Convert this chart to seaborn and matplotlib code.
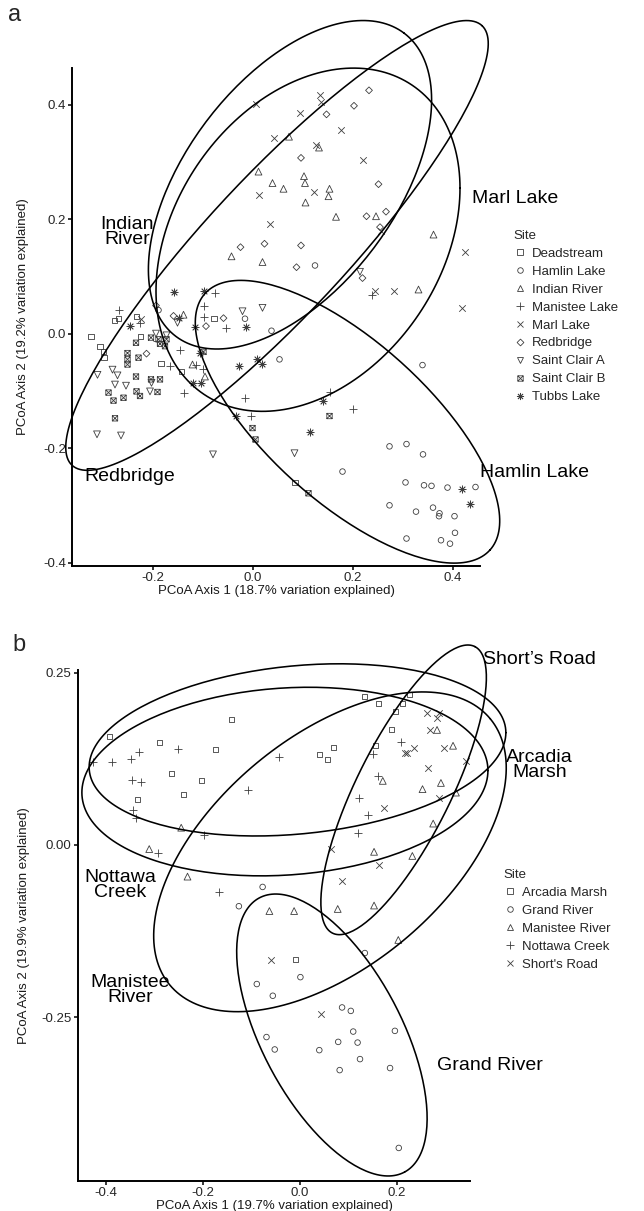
import numpy as np
import pandas as pd
import matplotlib
matplotlib.use("Agg")
import matplotlib.pyplot as plt
import seaborn as sns
from matplotlib.path import Path
from matplotlib.lines import Line2D

sns.set_theme(style="white")
plt.rcParams["font.family"] = ["Liberation Sans", "DejaVu Sans"]
plt.rcParams["axes.unicode_minus"] = False

# ---------------- Panel a data (PCoA axis 1, axis 2) ----------------
A_DEADSTREAM = [(-0.078, 0.027), (-0.277, 0.023), (-0.269, 0.026), (-0.233, 0.030), (-0.324, -0.005),
                (-0.225, -0.005), (-0.306, -0.023), (-0.299, -0.031), (-0.298, -0.042), (-0.184, -0.053),
                (-0.143, -0.066), (0.084, -0.260)]
A_HAMLIN = [(0.124, 0.119), (-0.016, 0.026), (0.037, 0.005), (0.053, -0.045), (-0.189, 0.041),
            (0.339, -0.055), (0.179, -0.241), (0.273, -0.197), (0.307, -0.193), (0.340, -0.211),
            (0.305, -0.260), (0.342, -0.265), (0.357, -0.266), (0.389, -0.269), (0.445, -0.268),
            (0.273, -0.300), (0.326, -0.311), (0.360, -0.304), (0.373, -0.314), (0.372, -0.319),
            (0.403, -0.319), (0.307, -0.358), (0.376, -0.361), (0.394, -0.367), (0.404, -0.348)]
A_INDIAN = [(0.072, 0.344), (0.132, 0.325), (0.011, 0.283), (0.039, 0.263), (0.061, 0.253),
            (0.102, 0.275), (0.104, 0.263), (0.153, 0.253), (0.151, 0.240), (0.105, 0.229),
            (0.166, 0.204), (0.246, 0.205), (0.361, 0.173), (-0.043, 0.135), (0.019, 0.125),
            (0.331, 0.077), (-0.139, 0.033), (-0.121, -0.054), (-0.096, -0.075)]
A_MANISTEE = [(0.238, 0.068), (0.154, -0.102), (0.199, -0.131), (-0.016, -0.113), (-0.003, -0.144),
              (-0.075, 0.071), (-0.097, 0.049), (-0.097, 0.029), (-0.053, 0.009), (-0.267, 0.042),
              (-0.226, 0.019), (-0.193, -0.013), (-0.146, -0.028), (-0.166, -0.057), (-0.113, -0.054),
              (-0.099, -0.062), (-0.137, -0.103)]
A_MARL = [(0.007, 0.401), (0.134, 0.417), (0.136, 0.405), (0.095, 0.385), (0.043, 0.342),
          (0.177, 0.355), (0.126, 0.330), (0.221, 0.304), (0.013, 0.243), (0.123, 0.247),
          (0.033, 0.192), (0.256, 0.180), (0.425, 0.143), (0.244, 0.075), (0.281, 0.075),
          (0.419, 0.045), (-0.224, 0.026)]
A_REDBRIDGE = [(0.232, 0.425), (0.202, 0.398), (0.147, 0.383), (0.096, 0.307), (0.251, 0.261),
               (0.227, 0.205), (0.266, 0.213), (0.254, 0.186), (-0.025, 0.151), (0.023, 0.157),
               (0.096, 0.154), (0.087, 0.116), (0.219, 0.097), (-0.194, 0.049), (-0.159, 0.031),
               (-0.059, 0.027), (-0.094, 0.013), (-0.213, -0.035)]
A_STCLAIR_A = [(0.214, 0.108), (-0.021, 0.039), (0.019, 0.045), (-0.151, 0.019), (-0.194, 0.000),
               (-0.173, -0.003), (0.083, -0.209), (-0.311, -0.072), (-0.281, -0.063), (-0.271, -0.073),
               (-0.203, -0.086), (-0.276, -0.089), (-0.254, -0.091), (-0.206, -0.101), (-0.312, -0.176),
               (-0.264, -0.178), (-0.080, -0.211)]
A_STCLAIR_B = [(0.153, -0.144), (-0.001, -0.165), (0.005, -0.185), (0.111, -0.279), (-0.204, -0.007),
               (-0.189, -0.010), (-0.173, -0.010), (-0.186, -0.018), (-0.176, -0.022), (-0.234, -0.016),
               (-0.099, -0.032), (-0.251, -0.034), (-0.251, -0.045), (-0.251, -0.054), (-0.229, -0.042),
               (-0.234, -0.075), (-0.204, -0.080), (-0.186, -0.080), (-0.289, -0.103), (-0.233, -0.101),
               (-0.191, -0.102), (-0.259, -0.112), (-0.226, -0.109), (-0.279, -0.117), (-0.276, -0.148)]
A_TUBBS = [(-0.014, 0.011), (-0.027, -0.056), (0.009, -0.045), (0.019, -0.053), (0.139, -0.118),
           (-0.033, -0.144), (0.114, -0.172), (0.419, -0.271), (0.434, -0.297), (-0.159, 0.072),
           (-0.098, 0.074), (-0.148, 0.028), (-0.116, 0.012), (-0.246, 0.014), (-0.106, -0.034),
           (-0.119, -0.086), (-0.103, -0.086)]

A_SITES = ["Deadstream", "Hamlin Lake", "Indian River", "Manistee Lake", "Marl Lake",
           "Redbridge", "Saint Clair A", "Saint Clair B", "Tubbs Lake"]
A_POINTS = [A_DEADSTREAM, A_HAMLIN, A_INDIAN, A_MANISTEE, A_MARL,
            A_REDBRIDGE, A_STCLAIR_A, A_STCLAIR_B, A_TUBBS]

# 95% ellipses: centre and two conjugate semi-axes (data units)
A_ELL_SITES = ["Indian River", "Redbridge", "Marl Lake", "Hamlin Lake"]
A_ELL_CENTER = [(0.074, 0.260), (0.048, 0.154), (0.110, 0.164), (0.189, -0.154)]
A_ELL_U = [(0.228, 0.265), (0.410, 0.384), (0.304, 0.090), (0.285, -0.224)]
A_ELL_V = [(0.168, -0.110), (0.102, -0.083), (0.000, -0.286), (-0.107, -0.104)]
A_LABELS = ["Indian\nRiver", "Marl Lake", "Hamlin Lake", "Redbridge"]
A_LABEL_POS = [(-0.252, 0.178), (0.524, 0.236), (0.564, -0.243), (-0.246, -0.25)]

# ---------------- Panel b data ----------------
B_ARCADIA = [(-0.142, 0.182), (-0.393, 0.158), (-0.289, 0.149), (-0.174, 0.138), (-0.265, 0.103),
             (-0.203, 0.094), (-0.335, 0.066), (-0.241, 0.073), (0.134, 0.215), (0.163, 0.205),
             (0.227, 0.219), (0.211, 0.205), (0.198, 0.194), (0.188, 0.167), (0.155, 0.144),
             (0.070, 0.141), (0.041, 0.132), (0.057, 0.124), (-0.010, -0.166)]
B_GRAND = [(-0.077, -0.061), (-0.126, -0.089), (0.134, -0.157), (0.001, -0.192), (-0.089, -0.202),
           (-0.056, -0.219), (0.087, -0.236), (0.105, -0.241), (0.196, -0.270), (0.110, -0.271),
           (0.079, -0.286), (0.119, -0.287), (-0.069, -0.279), (-0.052, -0.297), (0.040, -0.298),
           (0.124, -0.311), (0.082, -0.327), (0.186, -0.324), (0.204, -0.440)]
B_MANISTEE = [(-0.245, 0.025), (-0.311, -0.006), (-0.232, -0.046), (-0.063, -0.096), (-0.012, -0.096),
              (0.078, -0.093), (0.153, -0.088), (0.203, -0.138), (0.283, 0.167), (0.316, 0.144),
              (0.171, 0.093), (0.291, 0.090), (0.253, 0.081), (0.322, 0.076), (0.275, 0.031),
              (0.153, -0.010), (0.232, -0.016)]
B_NOTTAWA = [(-0.427, 0.120), (-0.388, 0.120), (-0.348, 0.125), (-0.332, 0.135), (-0.251, 0.139),
             (-0.043, 0.127), (-0.347, 0.095), (-0.328, 0.091), (-0.107, 0.080), (-0.344, 0.051),
             (-0.338, 0.039), (-0.197, 0.015), (-0.292, -0.011), (-0.168, -0.069), (0.208, 0.149),
             (0.150, 0.132), (0.161, 0.100), (0.122, 0.068), (0.141, 0.044), (0.120, 0.017)]
B_SHORTS = [(0.262, 0.192), (0.287, 0.191), (0.283, 0.185), (0.269, 0.167), (0.216, 0.134),
            (0.222, 0.134), (0.236, 0.141), (0.297, 0.141), (0.265, 0.111), (0.342, 0.122),
            (0.287, 0.068), (0.173, 0.053), (0.064, -0.006), (0.087, -0.053), (0.163, -0.029),
            (-0.060, -0.167), (0.043, -0.246)]

B_SITES = ["Arcadia Marsh", "Grand River", "Manistee River", "Nottawa Creek", "Short's Road"]
B_POINTS = [B_ARCADIA, B_GRAND, B_MANISTEE, B_NOTTAWA, B_SHORTS]
B_ELL_SITES = B_SITES
B_ELL_CENTER = [(-0.005, 0.138), (0.066, -0.276), (0.062, -0.010), (-0.031, 0.092), (0.214, 0.080)]
B_ELL_U = [(0.430, 0.025), (0.150, -0.199), (0.331, 0.193), (0.419, 0.016), (0.147, 0.208)]
B_ELL_V = [(0.000, -0.1225), (-0.127, -0.048), (0.151, -0.129), (0.000, -0.136), (0.087, -0.031)]
B_LABELS = ["Arcadia\nMarsh", "Grand River", "Manistee\nRiver", "Nottawa\nCreek", "Short\u2019s Road"]
B_LABEL_POS = [(0.495, 0.116), (0.392, -0.32), (-0.351, -0.211), (-0.371, -0.058), (0.495, 0.269)]

# ---------------- marker styles (ggplot shapes 0..8) ----------------
SQ_X = Path([(-1, -1), (1, -1), (1, 1), (-1, 1), (-1, -1), (-1, -1), (1, 1), (-1, 1), (1, -1)],
            [Path.MOVETO, Path.LINETO, Path.LINETO, Path.LINETO, Path.CLOSEPOLY,
             Path.MOVETO, Path.LINETO, Path.MOVETO, Path.LINETO])
SHAPES = [("s", True, 13), ("o", True, 16), ("^", True, 24), ("+", False, 34), ("x", False, 22),
          ("D", True, 12), ("v", True, 24), (SQ_X, True, 15), ((8, 2, 0), False, 26)]
PT_COLOR = "#3d3d3d"


def ellipse_frame(center, u, v, segments=200):
    t = np.linspace(0, 2 * np.pi, segments + 1)
    x = center[0] + u[0] * np.cos(t) + v[0] * np.sin(t)
    y = center[1] + u[1] * np.cos(t) + v[1] * np.sin(t)
    return pd.DataFrame({"x": x, "y": y})


def draw_panel(ax, sites, points, ell_c, ell_u, ell_v, labels, label_pos, xlim, ylim, xticks,
               yticks, yticklabels, xlabel, ylabel, ylabelpad):
    handles = []
    for i, (site, pts) in enumerate(zip(sites, points)):
        mk, hollow, size = SHAPES[i]
        df = pd.DataFrame(pts, columns=["x", "y"])
        kw = dict(marker=mk, s=size, linewidth=0.6, color=PT_COLOR, zorder=3)
        if hollow:
            kw["facecolors"] = "none"
            kw["edgecolors"] = PT_COLOR
        sns.scatterplot(data=df, x="x", y="y", ax=ax, legend=False, **kw)
        handles.append(Line2D([], [], linestyle="", marker=mk, markersize=np.sqrt(size),
                              markerfacecolor="none", markeredgecolor=PT_COLOR,
                              markeredgewidth=0.6, color=PT_COLOR, label=site))
    for c, u, v in zip(ell_c, ell_u, ell_v):
        e = ellipse_frame(c, u, v)
        sns.lineplot(data=e, x="x", y="y", sort=False, estimator=None, ax=ax,
                     color="black", linewidth=1.15, zorder=4)
    for ln in ax.lines:
        ln.set_clip_on(False)
    for lab, (lx, ly) in zip(labels, label_pos):
        ax.text(lx, ly, lab, ha="center", va="center", fontsize=14, color="black",
                linespacing=0.85, clip_on=False)
    ax.set_xlim(*xlim)
    ax.set_ylim(*ylim)
    ax.set_xticks(xticks)
    ax.set_xticklabels([f"{t:.1f}" for t in xticks])
    ax.set_yticks(yticks)
    ax.set_yticklabels(yticklabels)
    ax.set_xlabel(xlabel, fontsize=9.5, color="#1a1a1a", labelpad=0.5)
    ax.set_ylabel(ylabel, fontsize=9.5, color="#1a1a1a", labelpad=ylabelpad)
    for s in ["top", "right"]:
        ax.spines[s].set_visible(False)
    for s in ["left", "bottom"]:
        ax.spines[s].set_linewidth(1.4)
        ax.spines[s].set_color("black")
    ax.tick_params(axis="both", which="both", direction="out", length=3, width=1.1,
                   color="black", labelsize=9.5, labelcolor="#262626", pad=1.5,
                   left=True, bottom=True)
    ax.grid(False)
    return handles


fig = plt.figure(figsize=(6.44, 12.11), dpi=100)
W, H = 644, 1211

def axes_px(l, t, r, b):
    return fig.add_axes([l / W, 1 - b / H, (r - l) / W, (b - t) / H])

ax_a = axes_px(72, 68, 480, 566)
ax_b = axes_px(78, 670, 470, 1181)

ha = draw_panel(ax_a, A_SITES, A_POINTS, A_ELL_CENTER, A_ELL_U, A_ELL_V, A_LABELS, A_LABEL_POS,
                (-0.362, 0.454), (-0.406, 0.464), [-0.2, 0.0, 0.2, 0.4],
                [-0.4, -0.2, 0.0, 0.2, 0.4], ["-0.4", "-0.2", "0.0", "0.2", "0.4"],
                "PCoA Axis 1 (18.7% variation explained)",
                "PCoA Axis 2 (19.2% variation explained)", 10)
hb = draw_panel(ax_b, B_SITES, B_POINTS, B_ELL_CENTER, B_ELL_U, B_ELL_V, B_LABELS, B_LABEL_POS,
                (-0.458, 0.351), (-0.488, 0.254), [-0.4, -0.2, 0.0, 0.2],
                [-0.25, 0.0, 0.25], ["-0.25", "0.00", "0.25"],
                "PCoA Axis 1 (19.7% variation explained)",
                "PCoA Axis 2 (19.9% variation explained)", 8)

leg_kw = dict(title="Site", loc="upper left", frameon=False, fontsize=9.5, title_fontsize=9.5,
              alignment="left", handlelength=1.0, handletextpad=0.45, labelspacing=0.43,
              borderpad=0, borderaxespad=0)
fig.legend(handles=ha, bbox_to_anchor=(513 / W, 1 - 230 / H), **leg_kw)
fig.legend(handles=hb, bbox_to_anchor=(503 / W, 1 - 869 / H), **leg_kw)

fig.text(8 / W, 1 - 15 / H, "a", fontsize=17, va="center", ha="left")
fig.text(12 / W, 1 - 645 / H, "b", fontsize=17, va="center", ha="left")

fig.savefig("out.png", dpi=100)
